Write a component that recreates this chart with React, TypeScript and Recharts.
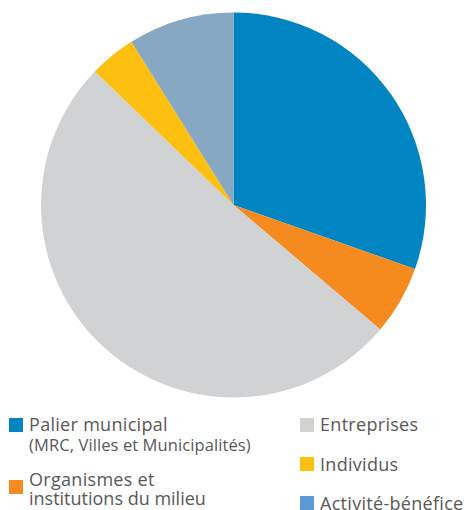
import { PieChart, Pie, Cell } from 'recharts';

const categories = [
  'Palier municipal',
  'Organismes et institutions du milieu',
  'Entreprises',
  'Individus',
  'Activité-bénéfice',
];
const values = [30.4, 5.8, 51.0, 3.9, 8.9];
const sliceColors = ['#0084C2', '#F58A1F', '#D1D2D4', '#FDC010', '#87A8C3'];
const legendColors = ['#0084C2', '#F58A1F', '#D1D2D4', '#FDC010', '#5B9BD5'];

const data = categories.map((name, i) => ({ name, value: values[i] }));

const textStyle = {
  position: 'absolute' as const,
  fontFamily: '"Open Sans", sans-serif',
  color: '#585858',
  whiteSpace: 'nowrap' as const,
  lineHeight: 1,
  fontSize: 18,
  letterSpacing: 0.3,
};

function Swatch({ x, y, color }: { x: number; y: number; color: string }) {
  return (
    <div
      style={{ position: 'absolute', left: x, top: y, width: 14, height: 14, background: color }}
    />
  );
}

export default function App() {
  return (
    <div
      style={{
        position: 'absolute',
        left: 0,
        top: 0,
        width: 470,
        height: 510,
        background: '#fff',
        overflow: 'hidden',
      }}
    >
      <PieChart width={470} height={400} margin={{ top: 0, right: 0, bottom: 0, left: 0 }}>
        <Pie
          data={data}
          dataKey="value"
          nameKey="name"
          cx={233.5}
          cy={205}
          outerRadius={192.5}
          startAngle={90}
          endAngle={-270}
          stroke="none"
          isAnimationActive={false}
        >
          {data.map((d, i) => (
            <Cell key={d.name} fill={sliceColors[i]} />
          ))}
        </Pie>
      </PieChart>

      <Swatch x={9} y={418} color={legendColors[0]} />
      <div style={{ ...textStyle, left: 29, top: 415 }}>Palier municipal</div>
      <div style={{ ...textStyle, left: 29, top: 437, fontSize: 16.5, letterSpacing: 0.1 }}>
        (MRC, Villes et Municipalités)
      </div>

      <Swatch x={9} y={480} color={legendColors[1]} />
      <div style={{ ...textStyle, left: 29, top: 470 }}>Organismes et</div>
      <div style={{ ...textStyle, left: 29, top: 489, letterSpacing: 0 }}>institutions du milieu</div>

      <Swatch x={300} y={418} color={legendColors[2]} />
      <div style={{ ...textStyle, left: 320, top: 415 }}>Entreprises</div>

      <Swatch x={300} y={457} color={legendColors[3]} />
      <div style={{ ...textStyle, left: 320, top: 455 }}>Individus</div>

      <Swatch x={300} y={496} color={legendColors[4]} />
      <div style={{ ...textStyle, left: 320, top: 494 }}>Activité-bénéfice</div>
    </div>
  );
}
